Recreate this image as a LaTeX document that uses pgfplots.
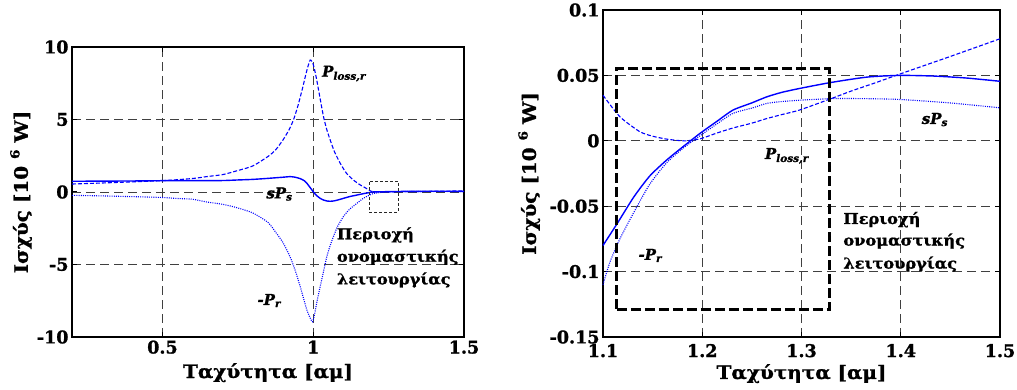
\documentclass[border=0pt]{standalone}
\usepackage{pgfplots}
\pgfplotsset{compat=1.18}
\usepackage{fontspec}
\setmainfont{DejaVu Serif}[BoldFeatures={FakeBold=1.2}, BoldItalicFeatures={FakeBold=1.2}]
\newfontfamily\wide{DejaVu Serif}[FakeStretch=1.08, BoldFeatures={FakeBold=1.2}, BoldItalicFeatures={FakeBold=1.2}]
\newfontfamily\wider{DejaVu Serif}[FakeStretch=1.08, BoldFeatures={FakeBold=1.2}]
\begin{document}
\begin{tikzpicture}[x=1pt,y=1pt]
\useasboundingbox (0,0) rectangle (1017,390);
\pgfplotsset{
 mystyle/.style={
  scale only axis, axis line style={line width=1.2pt, black},
  tick align=inside, tick pos=both, major tick length=5pt,
  tick style={line width=1pt, black},
  grid=major, grid style={dash pattern=on 9pt off 5pt, line width=0.8pt, black!75},
  tick label style={font={\fontsize{17.5}{19}\selectfont\bfseries}},
  label style={font={\wider\fontsize{18.5}{21}\selectfont\bfseries}},
  /pgf/number format/assume math mode=true,
 },
 sol/.style={blue, line width=1.4pt, smooth, tension=0.4},
 dsh/.style={blue, line width=1.1pt, dash pattern=on 4pt off 2pt, smooth, tension=0.4},
 dot/.style={blue, line width=1.1pt, dash pattern=on 1pt off 1.2pt, smooth, tension=0.4},
}
\tikzset{
 ann/.style={font={\wide\fontsize{15}{17}\selectfont\bfseries}, inner sep=0pt, anchor=base west},
 pl/.style={font={\fontsize{15}{17}\selectfont\bfseries\itshape}, inner sep=0pt, anchor=base west},
}
% ---------------- left axis
\begin{axis}[mystyle, at={(72pt,53pt)}, anchor=south west, width=392pt, height=290pt,
 xmin=0.2, xmax=1.5, ymin=-10, ymax=10,
 xtick={0.5,1,1.5}, xticklabels={0.5,1,1.5},
 ytick={-10,-5,0,5,10}, yticklabels={-10,-5,0,5,10},
 xlabel={Ταχύτητα [αμ]}, ylabel={Ισχύς [10 \raisebox{0.45em}{\fontsize{12.5}{12}\selectfont 6} W]},
 xlabel style={at={(axis description cs:0.5,-0.123)}, anchor=center},
 ylabel style={at={(axis description cs:-0.130,0.5)}, anchor=center},
 clip=false]
\addplot[dsh] coordinates {(0.2,0.55) (0.3,0.62) (0.4,0.70) (0.5,0.78) (0.6,0.93) (0.65,1.07) (0.7,1.2) (0.75,1.48) (0.8,1.8) (0.85,2.45) (0.875,2.9) (0.9,3.6) (0.92,4.3) (0.935,5.0) (0.95,6.0) (0.965,7.2) (0.979,8.4) (0.99,9.1) (1.0,8.8) (1.01,7.9) (1.018,7.0) (1.034,5.2) (1.045,4.3) (1.056,3.6) (1.07,2.8) (1.089,2.0) (1.11,1.3) (1.133,0.83) (1.155,0.5) (1.176,0.25) (1.19,0.07) (1.2,0.01) (1.25,0.012) (1.3,0.025) (1.4,0.051) (1.5,0.078)};
\addplot[sol] coordinates {(0.2,0.74) (0.3,0.75) (0.4,0.76) (0.5,0.78) (0.6,0.78) (0.7,0.79) (0.75,0.83) (0.8,0.87) (0.85,0.94) (0.9,1.02) (0.923,1.06) (0.94,1.02) (0.957,0.92) (0.97,0.78) (0.979,0.6) (0.99,0.3) (1.0,0.02) (1.01,-0.22) (1.023,-0.44) (1.035,-0.56) (1.045,-0.62) (1.057,-0.64) (1.067,-0.62) (1.08,-0.56) (1.1,-0.44) (1.12,-0.32) (1.145,-0.21) (1.17,-0.1) (1.19,-0.03) (1.2,0.005) (1.3,0.04) (1.4,0.05) (1.5,0.045)};
\addplot[dot] coordinates {(0.2,-0.23) (0.3,-0.27) (0.4,-0.32) (0.5,-0.38) (0.55,-0.45) (0.6,-0.5) (0.65,-0.7) (0.7,-0.85) (0.75,-1.1) (0.8,-1.45) (0.85,-2.1) (0.878,-2.85) (0.9,-3.5) (0.923,-4.46) (0.94,-5.4) (0.957,-6.53) (0.97,-7.5) (0.979,-8.14) (0.99,-8.7) (0.998,-8.95) (1.005,-8.37) (1.013,-7.5) (1.023,-6.53) (1.035,-5.4) (1.045,-4.46) (1.056,-3.7) (1.067,-3.08) (1.08,-2.4) (1.1,-1.70) (1.12,-1.2) (1.145,-0.78) (1.165,-0.45) (1.187,-0.21) (1.2,-0.1) (1.22,-0.04) (1.25,0.015) (1.3,0.031) (1.4,0.032) (1.5,0.025)};
\addplot[black!85, line width=0.9pt, dash pattern=on 3pt off 2pt] coordinates {(1.186,-1.4) (1.281,-1.4) (1.281,0.76) (1.186,0.76) (1.186,-1.4)};
\node[pl] at (axis cs:1.029,7.95) {P\textsubscript{loss,r}};
\node[pl] at (axis cs:0.844,-0.44) {sP\textsubscript{s}};
\node[pl] at (axis cs:0.8145,-7.79) {-P\textsubscript{r}};
\node[ann] at (axis cs:1.078,-3.26) {Περιοχή};
\node[ann] at (axis cs:1.078,-4.81) {ονομαστικής};
\node[ann] at (axis cs:1.078,-6.37) {λειτουργίας};
\end{axis}
% ---------------- right axis
\begin{axis}[mystyle, at={(603pt,53pt)}, anchor=south west, width=397pt, height=327pt,
 xmin=1.1, xmax=1.5, ymin=-0.15, ymax=0.1,
 xtick={1.1,1.2,1.3,1.4,1.5}, xticklabels={1.1,1.2,1.3,1.4,1.5},
 ytick={-0.15,-0.1,-0.05,0,0.05,0.1}, yticklabels={-0.15,-0.1,-0.05,0,0.05,0.1},
 xticklabel style={yshift=-3.5pt},
 xlabel={Ταχύτητα [αμ]}, ylabel={Ισχύς [10 \raisebox{0.45em}{\fontsize{12.5}{12}\selectfont 6} W]},
 xlabel style={at={(axis description cs:0.5,-0.112)}, anchor=center},
 ylabel style={at={(axis description cs:-0.186,0.5)}, anchor=center},
 clip=false]
\addplot[dsh] coordinates {(1.1,0.0348) (1.117,0.0184) (1.137,0.007) (1.15,0.0035) (1.164,0.0013) (1.175,0.0003) (1.184,0.0) (1.198,0.0015) (1.215,0.006) (1.231,0.0098) (1.25,0.0135) (1.265,0.017) (1.28,0.020) (1.298,0.0235) (1.329,0.032) (1.35,0.038) (1.375,0.0445) (1.399,0.051) (1.45,0.0645) (1.5,0.078)};
\addplot[sol] coordinates {(1.1,-0.080) (1.114,-0.0636) (1.131,-0.043) (1.147,-0.027) (1.164,-0.0148) (1.181,-0.0043) (1.198,0.0058) (1.215,0.015) (1.231,0.0235) (1.25,0.029) (1.265,0.0336) (1.28,0.037) (1.298,0.040) (1.329,0.0445) (1.366,0.0487) (1.399,0.050) (1.433,0.0495) (1.466,0.048) (1.5,0.0455)};
\addplot[dot] coordinates {(1.1,-0.110) (1.107,-0.0927) (1.117,-0.075) (1.131,-0.0548) (1.147,-0.0333) (1.164,-0.0169) (1.181,-0.0055) (1.198,0.004) (1.215,0.013) (1.231,0.021) (1.25,0.025) (1.265,0.0286) (1.28,0.030) (1.298,0.031) (1.332,0.0323) (1.366,0.0322) (1.399,0.0316) (1.449,0.029) (1.5,0.0252)};
\addplot[black, line width=3pt, dash pattern=on 10pt off 4pt] coordinates {(1.114,-0.129) (1.328,-0.129) (1.328,0.055) (1.114,0.055) (1.114,-0.129)};
\node[pl] at (axis cs:1.263,-0.0139) {P\textsubscript{loss,r}};
\node[pl] at (axis cs:1.421,0.0129) {sP\textsubscript{s}};
\node[pl] at (axis cs:1.1356,-0.091) {-P\textsubscript{r}};
\node[ann] at (axis cs:1.342,-0.0636) {Περιοχή};
\node[ann] at (axis cs:1.342,-0.0801) {ονομαστικής};
\node[ann] at (axis cs:1.342,-0.0977) {λειτουργίας};
\end{axis}
\end{tikzpicture}
\end{document}
